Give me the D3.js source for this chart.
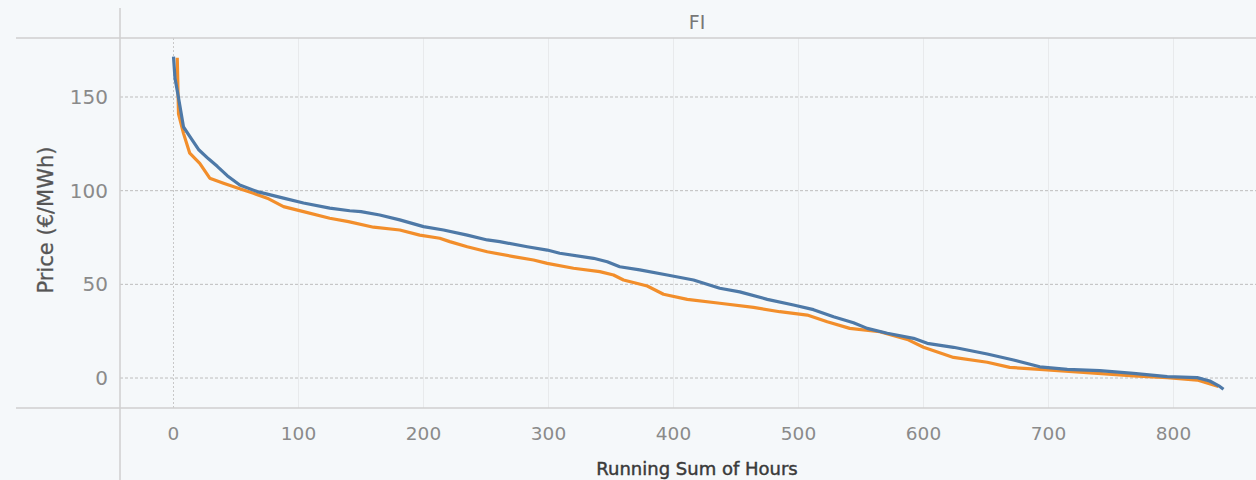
<!DOCTYPE html>
<html>
<head>
<meta charset="utf-8">
<script src="https://cdn.jsdelivr.net/npm/d3@7"></script>
<style>
  body { margin: 0; background: #f5f8fa; }
  text { font-family: "DejaVu Sans", sans-serif; }
</style>
</head>
<body>
<script>
// price duration curves, FI
var blueHours = [0, 1.2, 3.9, 8, 13, 20, 28, 35, 43, 53, 67, 88, 104, 125, 141, 150, 165, 181, 200, 216, 235, 251, 261, 283, 299, 309, 336, 347, 357, 373, 395, 416, 437, 453, 475, 496, 512, 528, 544, 555, 571, 592, 603, 624, 651, 672, 693, 715, 741, 768, 795, 819, 829, 837, 840];
var bluePrice = [171.5, 160, 150, 134, 129, 122, 117, 113, 108, 103, 99.5, 96, 93.4, 90.7, 89.3, 88.8, 87, 84.4, 80.8, 79, 76.3, 73.7, 72.8, 70.1, 68.3, 66.6, 63.9, 62.1, 59.4, 57.7, 55, 52.3, 47.9, 46, 42, 39, 36.5, 32.7, 29.5, 26.5, 23.9, 21.2, 18.5, 16.4, 12.8, 9.6, 6.0, 4.6, 3.9, 2.5, 0.7, 0.2, -1.6, -4.5, -6];

var orangeHours = [3, 4, 8, 13, 21, 29, 40, 53, 64, 75, 88, 104, 125, 140, 160, 181, 197, 213, 221, 235, 251, 272, 288, 299, 320, 341, 352, 360, 379, 392, 411, 437, 464, 485, 507, 523, 541, 565, 587, 600, 624, 651, 669, 693, 728, 768, 795, 819, 832, 836];
var orangePrice = [171, 141, 130.6, 120, 114.6, 106.7, 104, 101, 98.6, 96, 91.5, 88.8, 85.3, 83.5, 80.5, 79, 76.3, 74.6, 72.8, 70.1, 67.4, 64.8, 63, 61.2, 58.6, 56.8, 55, 52.3, 49.1, 44.7, 42, 39.9, 37.7, 35.4, 33.6, 30, 26.5, 24.7, 20.6, 16.4, 11, 8.4, 5.7, 4.6, 3, 1.1, 0.2, -1.1, -3.7, -4.5];

var xTicks = [0, 100, 200, 300, 400, 500, 600, 700, 800];
var yTicks = [0, 50, 100, 150];

var w = 1256, h = 480;
var plotLeft = 120, plotTop = 38, plotBottom = 408;

var svg = d3.select("body").append("svg")
    .attr("width", w)
    .attr("height", h);

svg.append("rect").attr("width", w).attr("height", h).attr("fill", "#f5f8fa");

var x = d3.scaleLinear().domain([-42.8, 866]).range([plotLeft, w]);
var y = d3.scaleLinear().domain([-16, 181.5]).range([plotBottom, plotTop]);

// vertical grid
svg.selectAll(".vgrid")
  .data(xTicks)
  .enter()
  .append("line")
    .attr("x1", d => x(d)).attr("x2", d => x(d))
    .attr("y1", plotTop).attr("y2", plotBottom)
    .attr("stroke", d => d == 0 ? "#c8c8c8" : "#e8eaec")
    .attr("stroke-width", 1)
    .attr("stroke-dasharray", d => d == 0 ? "2,2" : null);

// horizontal grid
svg.selectAll(".hgrid")
  .data(yTicks)
  .enter()
  .append("line")
    .attr("x1", plotLeft).attr("x2", w)
    .attr("y1", d => y(d)).attr("y2", d => y(d))
    .attr("stroke", "#bdbdbd")
    .attr("stroke-dasharray", "3,2");

// frame lines
svg.append("line").attr("x1", 16).attr("x2", w).attr("y1", plotTop).attr("y2", plotTop).attr("stroke", "#cfcfcf").attr("stroke-width", 1.5);
svg.append("line").attr("x1", 16).attr("x2", w).attr("y1", plotBottom).attr("y2", plotBottom).attr("stroke", "#cfcfcf").attr("stroke-width", 1.5);
svg.append("line").attr("x1", plotLeft).attr("x2", plotLeft).attr("y1", 8).attr("y2", h).attr("stroke", "#cfcfcf").attr("stroke-width", 1.5);

// ticks
svg.selectAll(".ylab")
  .data(yTicks)
  .enter()
  .append("text")
    .attr("x", 108)
    .attr("y", d => y(d) + 7)
    .attr("text-anchor", "end")
    .attr("font-size", 20)
    .attr("fill", "#8a8a8a")
    .text(d => d);

svg.selectAll(".xlab")
  .data(xTicks)
  .enter()
  .append("text")
    .attr("x", d => x(d))
    .attr("y", 440)
    .attr("text-anchor", "middle")
    .attr("font-size", 18.5)
    .attr("fill", "#8a8a8a")
    .text(d => d);

svg.append("text")
    .attr("x", 697).attr("y", 29)
    .attr("text-anchor", "middle")
    .attr("font-size", 19)
    .attr("fill", "#777")
    .text("FI");

svg.append("text")
    .attr("transform", "translate(53,220) rotate(-90)")
    .attr("text-anchor", "middle")
    .attr("font-size", 21)
    .attr("fill", "#555")
    .attr("stroke", "#555")
    .attr("stroke-width", 0.3)
    .text("Price (€/MWh)");

svg.append("text")
    .attr("x", 697).attr("y", 475)
    .attr("text-anchor", "middle")
    .attr("font-size", 18)
    .attr("fill", "#3a3a3a")
    .attr("stroke", "#3a3a3a")
    .attr("stroke-width", 0.45)
    .text("Running Sum of Hours");

var line = d3.line()
    .x(d => x(d[0]))
    .y(d => y(d[1]));

svg.append("path")
    .datum(d3.zip(orangeHours, orangePrice))
    .attr("d", line)
    .attr("fill", "none")
    .attr("stroke", "#f28e2b")
    .attr("stroke-width", 3.2)
    .attr("stroke-linejoin", "round");

svg.append("path")
    .datum(d3.zip(blueHours, bluePrice))
    .attr("d", line)
    .attr("fill", "none")
    .attr("stroke", "#4e79a7")
    .attr("stroke-width", 3.2)
    .attr("stroke-linejoin", "round");
</script>
</body>
</html>
